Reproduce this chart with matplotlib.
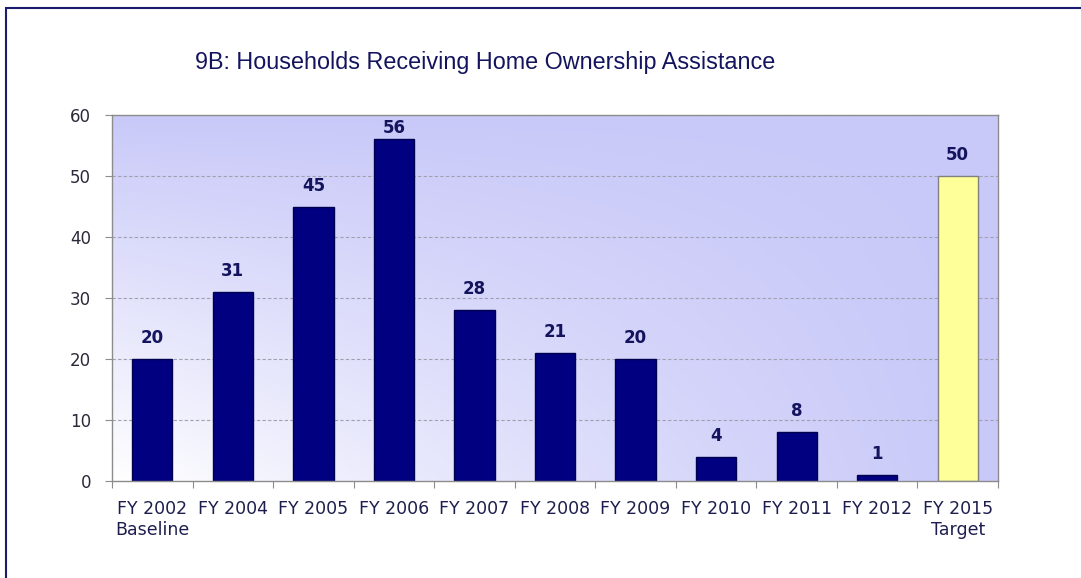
import numpy as np
import matplotlib.pyplot as plt
from matplotlib.colors import LinearSegmentedColormap
from matplotlib.patches import Rectangle

# datos del grafico
categorias = ["FY 2002\nBaseline", "FY 2004", "FY 2005", "FY 2006", "FY 2007", "FY 2008",
              "FY 2009", "FY 2010", "FY 2011", "FY 2012", "FY 2015\nTarget"]
valores = [20, 31, 45, 56, 28, 21, 20, 4, 8, 1, 50]
es_meta = [False] * 10 + [True]

titulo = "9B: Households Receiving Home Ownership Assistance"

fig = plt.figure(figsize=(10.81, 5.78), dpi=100)
fig.patch.set_facecolor("white")

# marco azul del area del grafico
marco = Rectangle((6 / 1081, -0.1), 1.2, 1 - 8 / 578 + 0.1, transform=fig.transFigure,
                  fill=False, edgecolor="#1c1c6e", linewidth=1.5)
fig.add_artist(marco)

ax = fig.add_axes([112 / 1081, 1 - 481 / 578, (998 - 112) / 1081, (481 - 115) / 578])

n = len(valores)
x = np.arange(n)
ax.set_xlim(-0.5, n - 0.5)
ax.set_ylim(0, 60)

# fondo degradado: blanco abajo a la izquierda, lila arriba y a la derecha
gx, gy = np.meshgrid(np.linspace(0, 1, 300), np.linspace(0, 1, 200))
f = 1 - (1 - gy) * (1 - gx) ** 1.2
cmap = LinearSegmentedColormap.from_list("fondo", ["#ffffff", "#c9c9f9"])
ax.imshow(f, cmap=cmap, extent=(-0.5, n - 0.5, 0, 60), origin="lower",
          aspect="auto", zorder=0, vmin=0, vmax=1)

for yv in range(10, 60, 10):
    ax.axhline(yv, color="#a0a0b0", linewidth=0.8, linestyle=(0, (3, 2)), zorder=1)

colores = ["#ffff99" if m else "#000080" for m in es_meta]
bordes = ["#808080" if m else "#000050" for m in es_meta]
ax.bar(x, valores, width=0.5, color=colores, edgecolor=bordes, linewidth=1, zorder=2)

# etiquetas de valor, sin salirse del area del grafico
for xi, v in zip(x, valores):
    ax.text(xi, min(v + 3.4, 57.8), str(v), ha="center", va="center",
            fontsize=12, fontweight="bold", color="#14145e", zorder=3)

for lado in ax.spines.values():
    lado.set_color("#8c8c8c")
    lado.set_linewidth(1)

ax.set_yticks(range(0, 61, 10))
ax.tick_params(axis="y", direction="out", length=5, color="#8c8c8c",
               labelsize=12, labelcolor="#2a2a3a", pad=10)

# marcas del eje x entre categorias
ax.set_xticks(np.arange(-0.5, n, 1.0))
ax.set_xticklabels([])
ax.set_xticks(x, minor=True)
ax.set_xticklabels(categorias, minor=True)
ax.tick_params(axis="x", which="major", direction="out", length=5, color="#8c8c8c")
ax.tick_params(axis="x", which="minor", length=0, labelsize=12.5,
               labelcolor="#1e1e4e", pad=14)

fig.text(485 / 1081, 1 - 62 / 578, titulo, ha="center", va="center",
         fontsize=16.8, color="#14145e", family="Liberation Sans")

fig.savefig("out.png", dpi=100)
